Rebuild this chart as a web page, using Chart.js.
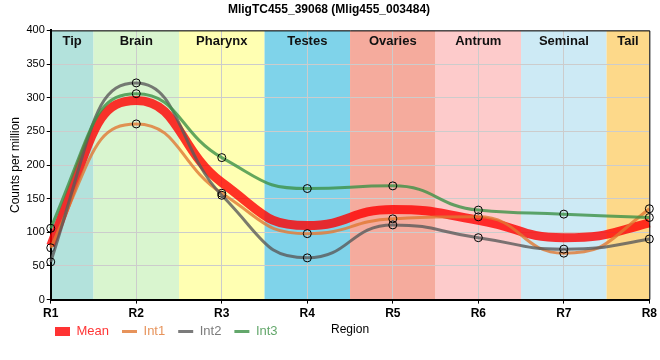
<!DOCTYPE html>
<html>
<head>
<meta charset="utf-8">
<script src="https://cdn.jsdelivr.net/npm/chart.js@4"></script>
<style>
html, body { margin: 0; padding: 0; background: #fff; }
#wrap { width: 660px; height: 360px; }
</style>
</head>
<body>
<div id="wrap"><canvas id="chart"></canvas></div>
<script>
// regions on the x axis and the tissue shown behind each one
const regions = ["R1", "R2", "R3", "R4", "R5", "R6", "R7", "R8"];
const tissues = ["Tip", "Brain", "Pharynx", "Testes", "Ovaries", "Antrum", "Seminal", "Tail"];
const tissueColors = ["#b3e2dc", "#d9f5cf", "#ffffb2", "#7fd3ea", "#f5ab9d", "#fdcbcb", "#cdeaf5", "#fdd98a"];

// counts per million
const meanValues = [80, 296, 174, 110, 134, 118, 92, 114];
const int1Values = [77, 261, 158, 98, 120, 123, 69, 135];
const int2Values = [56, 322, 155, 62, 111, 92, 75, 90];
const int3Values = [106, 306, 211, 165, 169, 133, 127, 122];

const font = "'Liberation Sans', Arial, sans-serif";

const seriesLine = (label, data, color, order) => ({
    label: label,
    data: data,
    borderColor: color,
    backgroundColor: color,
    borderWidth: 3,
    tension: 0.4,
    pointRadius: 4,
    pointBorderColor: "#000",
    pointBorderWidth: 1,
    pointBackgroundColor: "rgba(0,0,0,0)",
    clip: false,
    order: order
});

const datasets = [
    {
        label: "Mean",
        data: meanValues,
        borderColor: "rgba(255,0,0,0.8)",
        backgroundColor: "rgba(255,0,0,0.8)",
        borderWidth: 9,
        tension: 0.4,
        pointRadius: 0,
        clip: false,
        order: 10
    },
    seriesLine("Int1", int1Values, "rgba(225,120,50,0.8)", 3),
    seriesLine("Int2", int2Values, "rgba(90,90,90,0.8)", 2),
    seriesLine("Int3", int3Values, "rgba(60,145,70,0.8)", 1)
];

// monotone slopes, but with longer handles so the curve sits flat around each point
const HANDLE = 0.5;
const smoothLines = {
    id: "smoothLines",
    beforeDatasetsDraw(chart) {
        chart.getSortedVisibleDatasetMetas().forEach(meta => {
            const pts = meta.data;
            const n = pts.length;
            const secant = [];
            for (let i = 0; i < n - 1; i++) secant.push((pts[i + 1].y - pts[i].y) / (pts[i + 1].x - pts[i].x));
            const slope = pts.map((p, i) => {
                if (i === 0 || i === n - 1) return 0;
                const s0 = secant[i - 1], s1 = secant[i];
                if (s0 * s1 <= 0) return 0;
                return Math.sign(s0) * 2 * Math.min(Math.abs(s0), Math.abs(s1), Math.abs(s0 + s1) / 4);
            });
            slope[0] = (3 * secant[0] - slope[1]) / 2;
            slope[n - 1] = (3 * secant[n - 2] - slope[n - 2]) / 2;
            pts.forEach((p, i) => {
                const hPrev = i > 0 ? (p.x - pts[i - 1].x) * HANDLE : 0;
                const hNext = i < n - 1 ? (pts[i + 1].x - p.x) * HANDLE : 0;
                p.cp1x = p.x - hPrev;
                p.cp1y = p.y - hPrev * slope[i];
                p.cp2x = p.x + hNext;
                p.cp2y = p.y + hNext * slope[i];
            });
            meta.dataset._pointsUpdated = true;
        });
    }
};

// coloured tissue bands behind the grid, names on top
const tissueBands = {
    id: "tissueBands",
    beforeDraw(chart) {
        const { ctx, chartArea, scales } = chart;
        const step = scales.x.getPixelForValue(1) - scales.x.getPixelForValue(0);
        ctx.save();
        tissues.forEach((name, i) => {
            const center = scales.x.getPixelForValue(i);
            const left = Math.max(chartArea.left, center - step / 2);
            const right = Math.min(chartArea.right, center + step / 2);
            ctx.fillStyle = tissueColors[i];
            ctx.fillRect(left, chartArea.top, right - left, chartArea.bottom - chartArea.top);
        });
        ctx.restore();
    },
    afterDraw(chart) {
        const { ctx, chartArea, scales } = chart;
        const step = scales.x.getPixelForValue(1) - scales.x.getPixelForValue(0);
        ctx.save();
        ctx.font = "bold 13px " + font;
        ctx.fillStyle = "#111";
        ctx.textAlign = "center";
        ctx.textBaseline = "middle";
        tissues.forEach((name, i) => {
            const center = scales.x.getPixelForValue(i);
            const left = Math.max(chartArea.left, center - step / 2);
            const right = Math.min(chartArea.right, center + step / 2);
            ctx.fillText(name, (left + right) / 2, chartArea.top + 11);
        });

        // frame: thin top and right, heavier left and bottom
        ctx.strokeStyle = "#000";
        ctx.lineWidth = 1;
        ctx.beginPath();
        ctx.moveTo(chartArea.left, chartArea.top + 0.5);
        ctx.lineTo(chartArea.right + 0.5, chartArea.top + 0.5);
        ctx.lineTo(chartArea.right + 0.5, chartArea.bottom);
        ctx.stroke();

        // x axis title sits on the legend row
        const legend = chart.legend;
        ctx.font = "12px " + font;
        ctx.fillStyle = "#000";
        ctx.fillText("Region", (chartArea.left + chartArea.right) / 2, legend.top + legend.height / 2);
        ctx.restore();
    },
    afterLayout(chart) {
        chart.legend.left += 34;
        chart.legend.top -= 12;
    }
};

new Chart(document.getElementById("chart"), {
    type: "line",
    data: { labels: regions, datasets: datasets },
    plugins: [tissueBands, smoothLines],
    options: {
        responsive: true,
        maintainAspectRatio: false,
        animation: false,
        layout: { padding: { left: 8, right: 10, bottom: 0 } },
        plugins: {
            title: {
                display: true,
                text: "MligTC455_39068 (Mlig455_003484)",
                color: "#000",
                font: { family: font, size: 12, weight: "bold" },
                padding: { top: 2, bottom: 14 }
            },
            legend: {
                position: "bottom",
                align: "start",
                labels: {
                    usePointStyle: true,
                    pointStyleWidth: 15,
                    boxHeight: 8,
                    padding: 13,
                    font: { family: font, size: 13 },
                    generateLabels(chart) {
                        const items = Chart.defaults.plugins.legend.labels.generateLabels(chart);
                        items.sort((a, b) => a.datasetIndex - b.datasetIndex);
                        items.forEach(item => {
                            const ds = chart.data.datasets[item.datasetIndex];
                            item.pointStyle = "line";
                            item.strokeStyle = ds.borderColor;
                            item.fillStyle = ds.borderColor;
                            item.lineWidth = ds.borderWidth;
                            item.fontColor = ds.borderColor;
                        });
                        return items;
                    }
                }
            },
            tooltip: { enabled: false }
        },
        scales: {
            x: {
                offset: false,
                grid: { color: "#cccccc", tickColor: "#000", tickLength: 4 },
                border: { color: "#000", width: 2 },
                ticks: {
                    color: "#000",
                    padding: 3,
                    font: { family: font, size: 12, weight: "bold" }
                }
            },
            y: {
                min: 0,
                max: 400,
                grid: { color: "#cccccc", tickColor: "#000", tickLength: 4 },
                border: { color: "#000", width: 2 },
                ticks: {
                    stepSize: 50,
                    color: "#000",
                    padding: 2,
                    font: { family: font, size: 11 }
                },
                title: {
                    display: true,
                    text: "Counts per million",
                    color: "#000",
                    padding: { top: 0, bottom: 2 },
                    font: { family: font, size: 12 }
                }
            }
        }
    }
});
</script>
</body>
</html>
